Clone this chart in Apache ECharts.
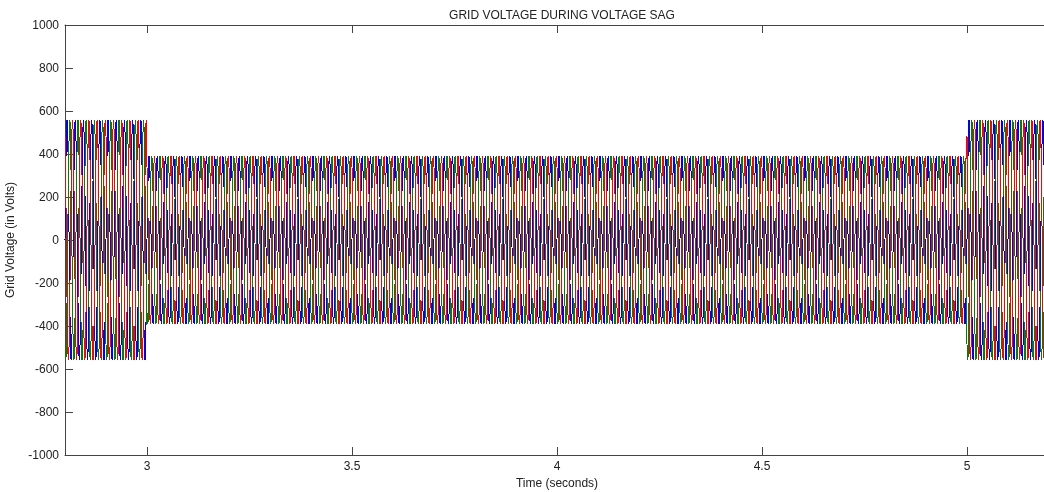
<!DOCTYPE html>
<html>
<head>
<meta charset="utf-8">
<script src="https://cdn.jsdelivr.net/npm/echarts@6/dist/echarts.min.js"></script>
<style>
  html, body { margin: 0; padding: 0; background: #fff; }
  #chart { width: 1044px; height: 492px; filter: url(#jpegish); }
  /* no antialiasing on the traces, like the old MATLAB figure */
  #chart svg path[stroke="#0000ff"], #chart svg path[stroke="#008000"], #chart svg path[stroke="#ff0000"],
  #chart svg path[stroke="rgb(0,0,255)"], #chart svg path[stroke="rgb(0,128,0)"], #chart svg path[stroke="rgb(255,0,0)"] {
    shape-rendering: crispEdges;
  }
</style>
</head>
<body>
<!-- soft colour bleed between the thin traces (keeps brightness, blurs only the colour) -->
<svg width="0" height="0" style="position:absolute">
  <filter id="jpegish" color-interpolation-filters="sRGB" x="-2%" y="-2%" width="104%" height="104%">
    <feFlood flood-color="#ffffff" result="white"/>
    <feMerge result="src">
      <feMergeNode in="white"/>
      <feMergeNode in="SourceGraphic"/>
    </feMerge>
    <feGaussianBlur in="src" stdDeviation="1" result="blur"/>
    <feColorMatrix in="blur" type="matrix" result="chroma"
      values="0.701 -0.587 -0.114 0 0.5  -0.299 0.413 -0.114 0 0.5  -0.299 -0.587 0.886 0 0.5  0 0 0 1 0"/>
    <feColorMatrix in="src" type="matrix" result="lum"
      values="0.299 0.587 0.114 0 0  0.299 0.587 0.114 0 0  0.299 0.587 0.114 0 0  0 0 0 1 0"/>
    <feComposite in="lum" in2="chroma" operator="arithmetic" k1="0" k2="1" k3="1" k4="-0.5"/>
  </filter>
</svg>
<div id="chart"></div>
<script>
// time window and the sag (seconds)
var TIME_START = 2.8
var TIME_END = 5.2
var SAMPLES_PER_SECOND = 1200
var SAG_START = 3.0
var SAG_END = 5.0
// peak voltage before / during / after the sag
var SEGMENT_PEAKS = [560, 392, 560]
// one 50 Hz cycle, per unit, 24 samples
var CYCLE_PU = [0, 0.2588, 0.5, 0.7071, 0.866, 0.9659, 1, 0.9659, 0.866, 0.7071, 0.5, 0.2588,
  0, -0.2588, -0.5, -0.7071, -0.866, -0.9659, -1, -0.9659, -0.866, -0.7071, -0.5, -0.2588]
// phase offsets in samples (120 deg = 8 samples)
var PHASE_SHIFTS = [0, 16, 8]
var PHASE_NAMES = ['Va', 'Vb', 'Vc']
var PHASE_COLORS = ['#0000ff', '#008000', '#ff0000']
var X_TICKS = [3, 3.5, 4, 4.5, 5]

var FONT = 'Liberation Sans, Arial, sans-serif'
var AXIS_COLOR = '#444'
var TEXT_COLOR = '#222'

function buildPhase(shift) {
  var out = []
  var n = Math.round((TIME_END - TIME_START) * SAMPLES_PER_SECOND)
  var kSagStart = Math.round((SAG_START - TIME_START) * SAMPLES_PER_SECOND)
  var kSagEnd = Math.round((SAG_END - TIME_START) * SAMPLES_PER_SECOND)
  for (var k = 0; k <= n; k++) {
    var peak = k < kSagStart ? SEGMENT_PEAKS[0] : (k < kSagEnd ? SEGMENT_PEAKS[1] : SEGMENT_PEAKS[2])
    var t = TIME_START + k / SAMPLES_PER_SECOND
    out.push([t, peak * CYCLE_PU[(k + shift) % CYCLE_PU.length]])
  }
  return out
}

var series = PHASE_NAMES.map(function (name, i) {
  return {
    name: name,
    type: 'line',
    data: buildPhase(PHASE_SHIFTS[i]),
    showSymbol: false,
    symbol: 'none',
    sampling: null,
    lineStyle: { color: PHASE_COLORS[i], width: 1 },
    animation: false
  }
})

var xAxisBase = {
  type: 'value',
  min: TIME_START,
  max: TIME_END,
  axisLine: { show: true, onZero: false, lineStyle: { color: AXIS_COLOR, width: 1 } },
  axisTick: { show: true, inside: true, length: 8, customValues: X_TICKS, lineStyle: { color: AXIS_COLOR } },
  splitLine: { show: false }
}

var chart = echarts.init(document.getElementById('chart'), null, { renderer: 'svg' })
chart.setOption({
  backgroundColor: '#fff',
  animation: false,
  title: {
    text: 'GRID VOLTAGE DURING VOLTAGE SAG',
    left: 557,
    top: 4,
    textAlign: 'center',
    textStyle: { fontFamily: FONT, fontSize: 12, fontWeight: 'normal', color: TEXT_COLOR }
  },
  grid: { left: 65, top: 25, width: 984, height: 430, outerBoundsMode: 'none', containLabel: false },
  xAxis: [
    Object.assign({}, xAxisBase, {
      position: 'bottom',
      name: 'Time (seconds)',
      nameLocation: 'middle',
      nameGap: 20,
      nameTextStyle: { fontFamily: FONT, fontSize: 12, color: TEXT_COLOR },
      axisLabel: { customValues: X_TICKS, margin: 5, fontFamily: FONT, fontSize: 12, color: TEXT_COLOR }
    }),
    Object.assign({}, xAxisBase, {
      position: 'top',
      axisLabel: { show: false }
    })
  ],
  yAxis: {
    type: 'value',
    min: -1000,
    max: 1000,
    interval: 200,
    name: 'Grid Voltage (in Volts)',
    nameLocation: 'middle',
    nameGap: 49,
    nameRotate: 90,
    nameTextStyle: { fontFamily: FONT, fontSize: 12, color: TEXT_COLOR },
    axisLine: { show: true, onZero: false, lineStyle: { color: AXIS_COLOR, width: 1 } },
    axisTick: { show: true, inside: true, length: 8, lineStyle: { color: AXIS_COLOR } },
    axisLabel: {
      margin: 6, fontFamily: FONT, fontSize: 12, color: TEXT_COLOR,
      formatter: function (v) { return String(v) }
    },
    splitLine: { show: false }
  },
  series: series
})
</script>
</body>
</html>
